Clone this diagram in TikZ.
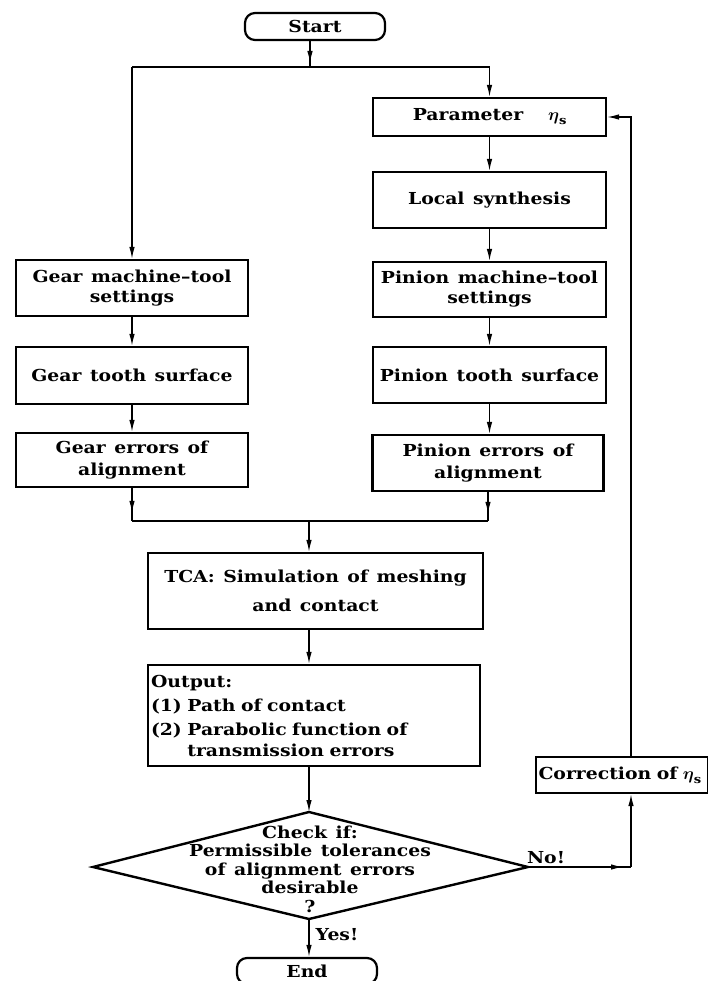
\documentclass[tikz,border=0pt]{standalone}
\usepackage{amsmath}
\usepackage{fontspec}
\setmainfont{DejaVu Serif}[FakeStretch=1.14, WordSpace=1.3]
\usetikzlibrary{arrows.meta,decorations.markings}
\tikzset{
  every node/.style={font=\bfseries\fontsize{16.5}{20}\selectfont, inner sep=0pt},
  box/.style={draw, line width=2.2pt, align=center},
  term/.style={draw, line width=2.2pt, rounded corners=10pt, minimum width=140pt, minimum height=27pt},
  conn/.style={line width=1.3pt},
  arr/.style={conn, -{Latex[length=12pt,width=5.5pt]}},
  midarr/.style={conn, postaction={decorate}, decoration={markings, mark=at position #1 with {\arrow{Latex[length=12pt,width=5.5pt]}}}},
  lbl/.style={font=\bfseries\fontsize{16.5}{20}\selectfont}
}
\newcommand{\etas}{$\boldsymbol{\eta}_{\mathbf{s}}$}
\begin{document}
\begin{tikzpicture}[x=1pt,y=-1pt]
\useasboundingbox (0,0) rectangle (708,981);
% nodes
\node[term] (start) at (315,26.5) {Start};
\node[box, minimum width=233pt, minimum height=38pt] (par) at (489.5,117) {Parameter\quad\ \etas};
\node[box, minimum width=233pt, minimum height=56pt] (loc) at (489.5,200) {Local synthesis};
\node[box, minimum width=233pt, minimum height=55pt] (pms) at (489.5,289.5) {Pinion machine--tool\\settings};
\node[box, minimum width=233pt, minimum height=56pt] (pts) at (489.5,375) {Pinion tooth surface};
\node[box, minimum width=231pt, minimum height=56pt] (per) at (488,463) {Pinion errors of\\[2pt]alignment};
\node[box, minimum width=232pt, minimum height=56pt] (gms) at (132,288) {Gear machine--tool\\settings};
\node[box, minimum width=232pt, minimum height=57pt] (gts) at (132,375.5) {Gear tooth surface};
\node[box, minimum width=232pt, minimum height=54pt] (ger) at (132,460) {Gear errors of\\[2pt]alignment};
\node[box, minimum width=335pt, minimum height=76pt] (tca) at (315.5,591) {TCA: Simulation of meshing\\[9pt]and contact};
\node[box, minimum width=332pt, minimum height=101pt, align=left, text width=326pt, font=\bfseries\fontsize{16.5}{24}\selectfont] (out) at (314,715.5) {Output:\\(1) Path of contact\\(2) Parabolic function of\\[-3pt]\hphantom{(2) }transmission errors};
\node[box, minimum width=172pt, minimum height=36pt, align=left, text width=167pt] (cor) at (622,775) {Correction of \etas};
\node[term, minimum height=26pt] (end) at (307,971) {End};
% decision diamond
\coordinate (dt) at (309,812);
\coordinate (dr) at (528,867);
\coordinate (db) at (309,919);
\coordinate (dl) at (93,867);
\draw[line width=2.4pt, line join=miter] (dt) -- (dr) -- (db) -- (dl) -- cycle;
\node[align=center, font=\bfseries\fontsize{16.5}{18.5}\selectfont] (chk) at (310,869) {Check if:\\Permissible tolerances\\of alignment errors\\desirable\\?};
\node[lbl] (no) at (546,858) {No!};
\node[lbl] (yes) at (337,935) {Yes!};
% junctions
\coordinate (j0) at (310,67);
\coordinate (jl) at (132,67);
\coordinate (jr) at (489.5,67);
\coordinate (ml) at (132,521);
\coordinate (mm) at (309,521);
\coordinate (nc) at (631,867);
% connectors
\draw[midarr=-4pt] (start.south -| j0) -- (j0);
\draw[conn] (jl) -- (jr);
\draw[arr] (jl) -- (gms.north);
\draw[arr] (jr) -- (par.north);
\draw[arr] (par.south) -- (loc.north);
\draw[arr] (loc.south) -- (pms.north);
\draw[arr] (pms.south) -- (pts.north);
\draw[arr] (pts.south) -- (pts.south |- per.north);
\draw[arr] (gms.south) -- (gts.north);
\draw[arr] (gts.south) -- (ger.north);
\draw[midarr=0.75] (ger.south) -- (ml);
\draw[midarr=0.75] (per.south) -- (per.south |- ml);
\draw[conn] (ml) -- (per.south |- ml);
\draw[arr] (mm) -- (mm |- tca.north);
\draw[arr] (mm |- tca.south) -- (mm |- out.north);
\draw[arr] (mm |- out.south) -- (dt);
\draw[arr] (db) -- (db |- end.north);
\draw[midarr=-8pt] (dr) -- (nc);
\draw[arr] (nc) -- (nc |- cor.south);
\draw[arr] (nc |- cor.north) -- (nc |- par.east) -- (par.east);
\end{tikzpicture}
\end{document}
